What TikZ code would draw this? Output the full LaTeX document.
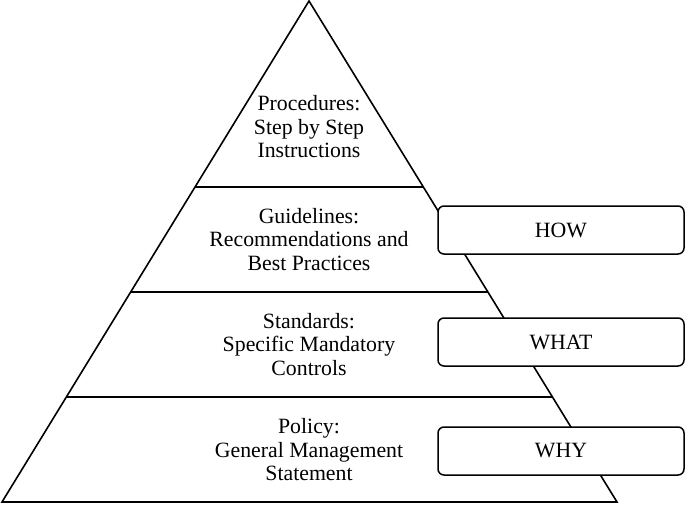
\documentclass[tikz,border=0pt]{standalone}
\usepackage{fontspec}
\setmainfont{Liberation Serif}
\usetikzlibrary{calc}
\begin{document}
\begin{tikzpicture}[x=1pt,y=-1pt,
  edge/.style={line width=1.6pt,line join=miter},
  tier/.style={align=center,font=\fontsize{21.8}{23.5}\selectfont},
  tag/.style={draw,line width=1.5pt,rounded corners=6pt,fill=white,minimum width=246pt,minimum height=48pt,inner sep=0pt,font=\fontsize{21.8}{23.5}\selectfont}]
\useasboundingbox (0,0) rectangle (685,504);
\coordinate (L) at (2,502);
\coordinate (A) at (309,1);
\coordinate (R) at (617,502);
\draw[edge] (L) -- (A) -- (R) -- cycle;
\coordinate (l1) at ($(L)!0.2096!(A)$);
\coordinate (r1) at ($(R)!0.2096!(A)$);
\coordinate (l2) at ($(L)!0.4192!(A)$);
\coordinate (r2) at ($(R)!0.4192!(A)$);
\coordinate (l3) at ($(L)!0.6287!(A)$);
\coordinate (r3) at ($(R)!0.6287!(A)$);
\draw[edge] (l1) -- (r1);
\draw[edge] (l2) -- (r2);
\draw[edge] (l3) -- (r3);
\node[tier] (proc) at (309,127) {Procedures:\\Step by Step\\Instructions};
\node[tier] (guide) at (309,239.5) {Guidelines:\\Recommendations and\\Best Practices};
\node[tier] (std) at (309,344.5) {Standards:\\Specific Mandatory\\Controls};
\node[tier] (pol) at (309,450) {Policy:\\General Management\\Statement};
\node[tag] (how) at (561,230) {HOW};
\node[tag] (what) at (561,342) {WHAT};
\node[tag] (why) at (561,451) {WHY};
\end{tikzpicture}
\end{document}
